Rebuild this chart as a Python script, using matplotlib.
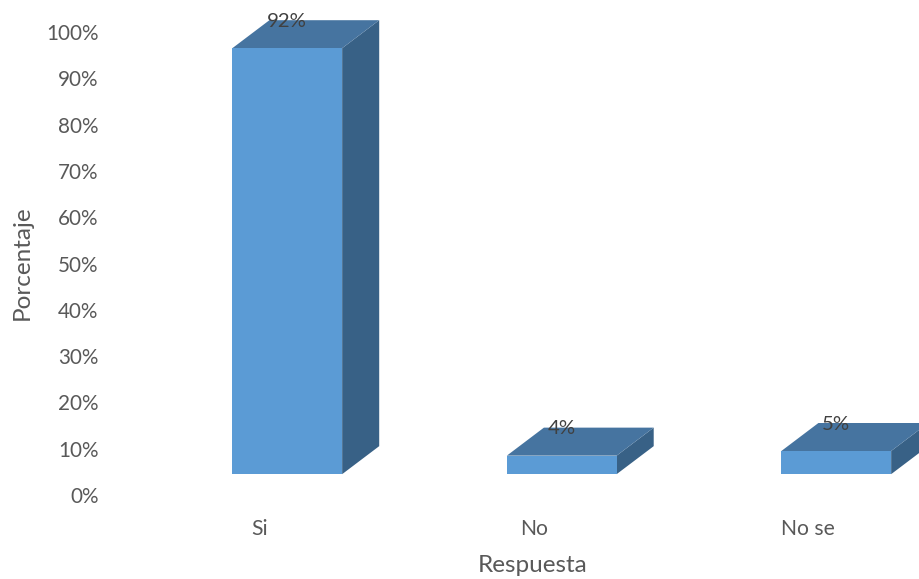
import matplotlib.pyplot as plt
from matplotlib.patches import Polygon

plt.rcParams['font.family'] = ['Lato', 'DejaVu Sans']

categorias = ['Si', 'No', 'No se']
porcentajes = [92, 4, 5]
yticks = [0, 10, 20, 30, 40, 50, 60, 70, 80, 90, 100]

# estilo del efecto 3D (unidades de datos)
desplaz = 0.102   # corrimiento de la cara frontal respecto a la etiqueta
ancho = 0.40
piso = 4.5
prof_x = 0.135
prof_y = 6.05

c_frente = '#5B9BD5'
c_arriba = '#4674A0'
c_lado = '#386186'
gris = '#595959'

fig = plt.figure(figsize=(9.19, 5.79), dpi=100)
ax = fig.add_axes([122 / 919, 84 / 579, 823.5 / 919, 463 / 579])
ax.set_xlim(-0.5, 2.5)
ax.set_ylim(0, 100)

for i, v in enumerate(porcentajes):
    x0 = i + desplaz - ancho / 2
    x1 = x0 + ancho
    y0 = piso
    y1 = piso + v
    # cara lateral
    ax.add_patch(Polygon([(x1, y0), (x1 + prof_x, y0 + prof_y), (x1 + prof_x, y1 + prof_y), (x1, y1)],
                         closed=True, facecolor=c_lado, edgecolor='none', clip_on=False))
    # cara superior
    ax.add_patch(Polygon([(x0, y1), (x1, y1), (x1 + prof_x, y1 + prof_y), (x0 + prof_x, y1 + prof_y)],
                         closed=True, facecolor=c_arriba, edgecolor='none', clip_on=False))
    # cara frontal
    ax.add_patch(Polygon([(x0, y0), (x1, y0), (x1, y1), (x0, y1)],
                         closed=True, facecolor=c_frente, edgecolor='none', clip_on=False))
    ax.text(i + desplaz, y1 + 5.8, f'{v}%', ha='center', va='center',
            fontsize=14.7, color='#404040', clip_on=False)

ax.set_xticks(range(len(categorias)))
ax.set_xticklabels(categorias, fontsize=15.2, color=gris)
ax.set_yticks(yticks)
ax.set_yticklabels([f'{t}%' for t in yticks], fontsize=14.9, color=gris)
ax.tick_params(axis='y', length=0, pad=17)
ax.tick_params(axis='x', length=0, pad=17)

for s in ax.spines.values():
    s.set_visible(False)

fig.text(22 / 919, 1 - 263 / 579, 'Porcentaje', rotation=90, ha='center', va='center',
         fontsize=17.5, color=gris)
fig.text(533 / 919, 1 - 565 / 579, 'Respuesta', ha='center', va='center',
         fontsize=17.5, color=gris)

fig.savefig('out.png', dpi=100)
